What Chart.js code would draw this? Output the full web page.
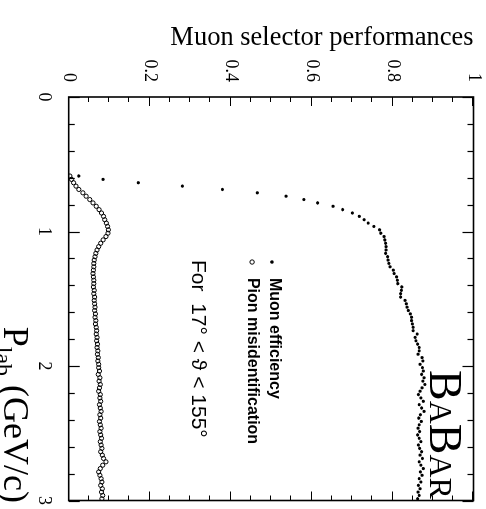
<!DOCTYPE html>
<html>
<head>
<meta charset="utf-8">
<script src="https://cdn.jsdelivr.net/npm/chart.js@4.4.0/dist/chart.umd.min.js"></script>
<style>
    html, body { margin: 0; padding: 0; background: #fff; overflow: hidden; }
    /* the plot is drawn upright and turned a quarter clockwise */
    #wrap {
        position: absolute; left: 0; top: 0; width: 509px; height: 486px;
        transform-origin: 0 0; transform: translate(486px, 0) rotate(90deg);
    }
</style>
</head>
<body>
<div id="wrap"><canvas id="chart" width="509" height="486"></canvas></div>
<script>
// P_lab bin centres (GeV/c)
const momentum = [
    0.5875, 0.6125, 0.6375, 0.6625, 0.6875, 0.7125, 0.7375, 0.7625, 0.7875, 0.8125,
    0.8375, 0.8625, 0.8875, 0.9125, 0.9375, 0.9625, 0.9875, 1.0125, 1.0375, 1.0625,
    1.0875, 1.1125, 1.1375, 1.1625, 1.1875, 1.2125, 1.2375, 1.2625, 1.2875, 1.3125,
    1.3375, 1.3625, 1.3875, 1.4125, 1.4375, 1.4625, 1.4875, 1.5125, 1.5375, 1.5625,
    1.5875, 1.6125, 1.6375, 1.6625, 1.6875, 1.7125, 1.7375, 1.7625, 1.7875, 1.8125,
    1.8375, 1.8625, 1.8875, 1.9125, 1.9375, 1.9625, 1.9875, 2.0125, 2.0375, 2.0625,
    2.0875, 2.1125, 2.1375, 2.1625, 2.1875, 2.2125, 2.2375, 2.2625, 2.2875, 2.3125,
    2.3375, 2.3625, 2.3875, 2.4125, 2.4375, 2.4625, 2.4875, 2.5125, 2.5375, 2.5625,
    2.5875, 2.6125, 2.6375, 2.6625, 2.6875, 2.7125, 2.7375, 2.7625, 2.7875, 2.8125,
    2.8375, 2.8625, 2.8875, 2.9125, 2.9375, 2.9625, 2.9875
];

const muonEff = [
    0.025, 0.085, 0.172, 0.281, 0.380, 0.466, 0.537, 0.581, 0.615, 0.653,
    0.677, 0.701, 0.718, 0.730, 0.740, 0.754, 0.768, 0.771, 0.779, 0.781,
    0.783, 0.784, 0.784, 0.783, 0.788, 0.789, 0.791, 0.794, 0.802, 0.804,
    0.810, 0.812, 0.813, 0.823, 0.822, 0.820, 0.820, 0.831, 0.834, 0.836,
    0.839, 0.844, 0.847, 0.847, 0.849, 0.851, 0.851, 0.861, 0.856, 0.858,
    0.862, 0.866, 0.866, 0.863, 0.873, 0.875, 0.868, 0.874, 0.876, 0.872,
    0.878, 0.875, 0.880, 0.873, 0.868, 0.864, 0.870, 0.876, 0.866, 0.872,
    0.878, 0.869, 0.865, 0.871, 0.866, 0.863, 0.867, 0.862, 0.866, 0.870,
    0.864, 0.867, 0.872, 0.868, 0.874, 0.866, 0.870, 0.876, 0.869, 0.873,
    0.866, 0.870, 0.864, 0.868, 0.863, 0.866, 0.862
];

const pionMisid = [
    0.003, 0.007, 0.012, 0.018, 0.025, 0.035, 0.043, 0.052, 0.060, 0.068,
    0.075, 0.081, 0.086, 0.089, 0.093, 0.096, 0.098, 0.097, 0.092, 0.085,
    0.079, 0.074, 0.070, 0.067, 0.065, 0.063, 0.062, 0.062, 0.061, 0.060,
    0.061, 0.062, 0.062, 0.061, 0.063, 0.062, 0.064, 0.063, 0.064, 0.065,
    0.064, 0.066, 0.065, 0.067, 0.066, 0.068, 0.069, 0.068, 0.070, 0.069,
    0.071, 0.070, 0.072, 0.071, 0.073, 0.072, 0.074, 0.074, 0.076, 0.073,
    0.077, 0.075, 0.078, 0.076, 0.074, 0.078, 0.077, 0.079, 0.076, 0.078,
    0.080, 0.077, 0.079, 0.076, 0.078, 0.080, 0.077, 0.079, 0.081, 0.078,
    0.080, 0.082, 0.079, 0.083, 0.086, 0.092, 0.084, 0.078, 0.074, 0.077,
    0.080, 0.082, 0.079, 0.083, 0.081, 0.084, 0.082
];

const pRange = [0, 3];
const effRange = [0, 1];

const SERIF = "'Liberation Serif', 'Times New Roman', serif";
const SANS = "'Liberation Sans', 'DejaVu Sans', sans-serif";

function points(ys) {
    return momentum.map((p, i) => ({ x: p, y: ys[i] }));
}

function drawLetters(ctx, parts, x, base) {
    parts.forEach(([text, size, font, shift]) => {
        ctx.font = size + "px " + font;
        ctx.fillText(text, x, base + (shift || 0));
        x += ctx.measureText(text).width;
    });
    return x;
}

function lettersWidth(ctx, parts) {
    let w = 0;
    parts.forEach(([text, size, font]) => {
        ctx.font = size + "px " + font;
        w += ctx.measureText(text).width;
    });
    return w;
}

// frame with inward ticks on all four sides, plus the labels inside the plot
const decorations = {
    id: "decorations",
    afterDatasetsDraw(chart) {
        const { ctx, chartArea: a, scales: { x, y } } = chart;
        ctx.save();
        ctx.strokeStyle = "#000";
        ctx.fillStyle = "#000";

        ctx.lineWidth = 1.2;
        ctx.beginPath();
        for (let i = 0; i <= 15; i++) {
            const px = Math.round(x.getPixelForValue(i * 0.2)) + 0.5;
            const len = i % 5 === 0 ? 11 : 6;
            ctx.moveTo(px, a.bottom); ctx.lineTo(px, a.bottom - len);
            ctx.moveTo(px, a.top); ctx.lineTo(px, a.top + len);
        }
        for (let i = 0; i <= 20; i++) {
            const py = Math.round(y.getPixelForValue(i * 0.05)) + 0.5;
            const len = i % 4 === 0 ? 9 : 5;
            ctx.moveTo(a.left, py); ctx.lineTo(a.left + len, py);
            ctx.moveTo(a.right, py); ctx.lineTo(a.right - len, py);
        }
        ctx.stroke();
        ctx.lineWidth = 1.6;
        ctx.strokeRect(a.left, a.top, a.right - a.left, a.bottom - a.top);

        // legend
        const lx = x.getPixelForValue(1.227);
        const tx = x.getPixelForValue(1.345);
        const muY = y.getPixelForValue(0.502);
        const piY = y.getPixelForValue(0.453);
        ctx.beginPath();
        ctx.arc(lx, muY, 1.8, 0, Math.PI * 2);
        ctx.fill();
        ctx.beginPath();
        ctx.lineWidth = 1;
        ctx.arc(lx, piY, 2.2, 0, Math.PI * 2);
        ctx.stroke();
        ctx.textBaseline = "middle";
        ctx.textAlign = "left";
        ctx.font = "bold 16px " + SANS;
        ctx.fillText("Muon efficiency", tx, muY - 2);
        ctx.fillText("Pion misidentification", tx, piY);

        ctx.font = "21px " + SANS;
        ctx.fillText("For  17° < ϑ < 155°", x.getPixelForValue(1.212), y.getPixelForValue(0.318));

        // experiment tag
        ctx.textBaseline = "alphabetic";
        drawLetters(ctx, [
            ["B", 46, SERIF], ["A", 32, SERIF], ["B", 46, SERIF], ["A", 32, SERIF], ["R", 32, SERIF]
        ], x.getPixelForValue(2.03), y.getPixelForValue(0.8925));

        // momentum axis title, right aligned to the end of the axis
        const title = [["P", 36, SERIF], ["lab", 24, SERIF, 8], [" (GeV/c)", 36, SERIF]];
        const w = lettersWidth(ctx, title);
        drawLetters(ctx, title, 503 - w, 482);
        ctx.restore();
    }
};

function tickText(v) {
    return String(+v.toFixed(1));
}

new Chart(document.getElementById("chart"), {
    type: "scatter",
    data: {
        datasets: [
            {
                label: "Muon efficiency",
                data: points(muonEff),
                pointRadius: 1.6,
                pointBorderWidth: 0,
                pointBackgroundColor: "#000"
            },
            {
                label: "Pion misidentification",
                data: points(pionMisid),
                pointRadius: 2.1,
                pointBorderWidth: 1,
                pointBorderColor: "#000",
                pointBackgroundColor: "rgba(0,0,0,0)"
            }
        ]
    },
    options: {
        responsive: false,
        animation: false,
        events: [],
        layout: { padding: { top: 12.5, right: 8.5, left: 0, bottom: 0 } },
        plugins: { legend: { display: false }, tooltip: { enabled: false } },
        scales: {
            x: {
                type: "linear",
                min: pRange[0],
                max: pRange[1],
                grid: { display: false, drawTicks: false },
                border: { display: false },
                ticks: {
                    stepSize: 1,
                    color: "#000",
                    padding: 14,
                    font: { family: SERIF, size: 18 },
                    callback: tickText
                },
                afterFit: s => {
                    s.height = 68.7;
                    s.paddingLeft = 0;
                    s.paddingRight = 0;
                }
            },
            y: {
                type: "linear",
                min: effRange[0],
                max: effRange[1],
                grid: { display: false, drawTicks: false },
                border: { display: false },
                ticks: {
                    stepSize: 0.2,
                    color: "#000",
                    padding: 15,
                    font: { family: SERIF, size: 18 },
                    callback: tickText
                },
                title: {
                    display: true,
                    text: "Muon selector performances",
                    align: "end",
                    color: "#000",
                    padding: { top: 22 },
                    font: { family: SERIF, size: 26.5 }
                },
                afterFit: s => {
                    s.width = 97;
                    s.paddingTop = 0;
                    s.paddingBottom = 0;
                }
            }
        }
    },
    plugins: [decorations]
});
</script>
</body>
</html>
